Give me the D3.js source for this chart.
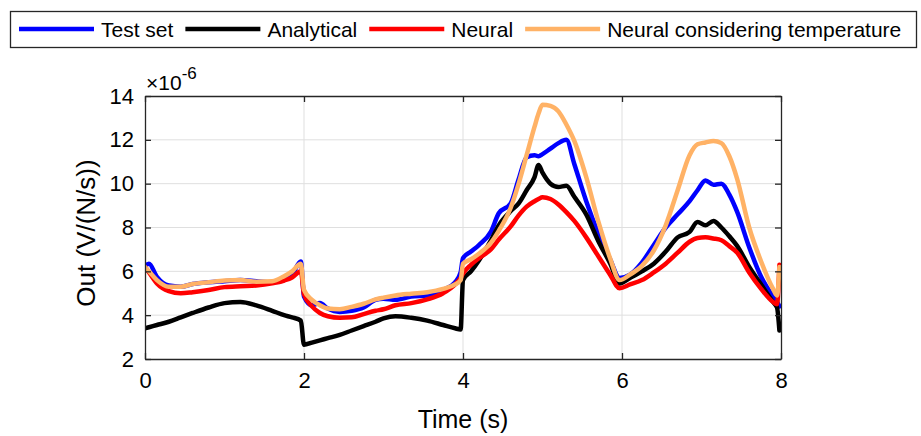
<!DOCTYPE html>
<html>
<head>
<meta charset="utf-8">
<script src="https://cdn.jsdelivr.net/npm/d3@7"></script>
<style>
    body { margin: 0; background: #fff; }
    svg { display: block; font-family: "Liberation Sans", Arial, Helvetica, sans-serif; }
</style>
</head>
<body>
<div id="chart"></div>
<script>
const times = [0, 0.05, 0.15, 0.3, 0.45, 0.6, 0.8, 1.0, 1.2, 1.4, 1.6, 1.75, 1.85, 1.96,
    2.0, 2.1, 2.2, 2.3, 2.45, 2.6, 2.75, 2.9, 3.0, 3.15, 3.35, 3.55, 3.75, 3.9, 3.97,
    4.0, 4.1, 4.2, 4.35, 4.45, 4.6, 4.7, 4.8, 4.9, 4.95, 5.0, 5.1, 5.2, 5.3, 5.4, 5.55, 5.7, 5.85, 5.97,
    6.1, 6.25, 6.4, 6.55, 6.7, 6.85, 6.95, 7.05, 7.15, 7.25, 7.35, 7.45, 7.6, 7.75, 7.9, 7.95, 7.98];

// values in units of 1e-6 V/(N/s)
const testSet = [6.25, 6.35, 5.75, 5.35, 5.3, 5.42, 5.5, 5.55, 5.6, 5.55, 5.5, 5.6, 5.85, 6.45,
    4.85, 4.45, 4.55, 4.3, 4.15, 4.2, 4.35, 4.7, 4.75, 4.7, 4.85, 4.9, 5.15, 5.5, 5.95,
    6.6, 6.9, 7.2, 7.8, 8.65, 9.1, 10.2, 11.2, 11.3, 11.25, 11.35, 11.6, 11.85, 12.0, 10.9, 9.2, 7.75, 6.55, 5.7,
    5.85, 6.4, 7.2, 8.0, 8.6, 9.2, 9.7, 10.15, 9.95, 10.0, 9.5, 8.7, 7.1, 5.75, 4.85, 4.6, 4.4];

const analytical = [3.4, 3.45, 3.55, 3.7, 3.9, 4.1, 4.35, 4.55, 4.6, 4.45, 4.2, 4.0, 3.9, 3.75,
    2.65, 2.75, 2.85, 2.95, 3.1, 3.3, 3.5, 3.7, 3.85, 3.95, 3.88, 3.75, 3.55, 3.4, 3.35,
    5.6, 6.0, 6.5, 7.4, 8.1, 8.75, 9.1, 9.7, 10.3, 10.85, 10.5, 10.0, 9.85, 9.9, 9.4, 8.6, 7.4, 6.37, 5.45,
    5.7, 6.0, 6.35, 6.9, 7.55, 7.8, 8.25, 8.1, 8.3, 8.0, 7.6, 7.15, 6.2, 5.4, 4.6, 4.35, 3.3];

const neural = [6.2, 5.95, 5.45, 5.1, 5.0, 5.05, 5.15, 5.28, 5.32, 5.35, 5.45, 5.58, 5.72, 6.0,
    4.95, 4.4, 4.1, 3.95, 3.88, 3.9, 4.05, 4.2, 4.27, 4.45, 4.55, 4.72, 5.0, 5.4, 5.7,
    5.9, 6.3, 6.6, 7.0, 7.45, 8.05, 8.55, 8.95, 9.2, 9.3, 9.38, 9.3, 9.05, 8.7, 8.3, 7.55, 6.7, 5.85, 5.23,
    5.4, 5.6, 5.95, 6.35, 6.85, 7.35, 7.52, 7.55, 7.5, 7.42, 7.15, 6.85, 5.95, 5.2, 4.6, 4.5, 6.3];

const neuralTemp = [6.2, 6.0, 5.6, 5.3, 5.3, 5.42, 5.5, 5.58, 5.6, 5.53, 5.55, 5.78, 6.0, 6.35,
    5.15, 4.7, 4.45, 4.3, 4.27, 4.38, 4.52, 4.72, 4.8, 4.9, 4.98, 5.05, 5.2, 5.4, 5.6,
    6.35, 6.55, 6.8, 7.3, 7.85, 8.9, 10.0, 11.3, 12.6, 13.2, 13.6, 13.55, 13.3, 12.7, 11.95, 10.3, 8.3, 6.6, 5.6,
    5.85, 6.25, 6.95, 8.1, 9.7, 11.3, 11.8, 11.88, 11.95, 11.85, 11.25, 10.2, 8.0, 6.45, 5.2, 4.9, 6.2];

const seriesNames = ['Test set', 'Analytical', 'Neural', 'Neural considering temperature'];
const seriesColors = ['#0000ff', '#000000', '#ff0000', '#ffb266'];
const seriesValues = [testSet, analytical, neural, neuralTemp];

const xTicks = [0, 2, 4, 6, 8];
const yTicks = [2, 4, 6, 8, 10, 12, 14];

document.addEventListener('DOMContentLoaded', () => {
    const width = 921;
    const height = 436;
    const plot = { left: 145, right: 781, top: 96, bottom: 359 };
    const axisColor = '#262626';

    const svg = d3.select('#chart')
        .append('svg')
        .attr('width', width)
        .attr('height', height);

    svg.append('rect').attr('width', width).attr('height', height).attr('fill', '#fff');

    const x = d3.scaleLinear().domain([0, 8]).range([plot.left, plot.right]);
    const y = d3.scaleLinear().domain([2, 14]).range([plot.bottom, plot.top]);

    // grid
    svg.append('g')
        .selectAll('line')
        .data(xTicks.slice(1, -1))
        .enter().append('line')
        .attr('x1', d => x(d)).attr('x2', d => x(d))
        .attr('y1', plot.top).attr('y2', plot.bottom)
        .attr('stroke', '#dfdfdf').attr('stroke-width', 1);

    svg.append('g')
        .selectAll('line')
        .data(yTicks.slice(1, -1))
        .enter().append('line')
        .attr('x1', plot.left).attr('x2', plot.right)
        .attr('y1', d => y(d)).attr('y2', d => y(d))
        .attr('stroke', '#dfdfdf').attr('stroke-width', 1);

    // data lines
    svg.append('clipPath').attr('id', 'clip')
        .append('rect')
        .attr('x', plot.left).attr('y', plot.top - 2)
        .attr('width', plot.right - plot.left).attr('height', plot.bottom - plot.top + 2);

    const line = d3.line()
        .x((d, i) => x(times[i]))
        .y(d => y(d))
        .curve(d3.curveMonotoneX);

    const lines = svg.append('g').attr('clip-path', 'url(#clip)');
    seriesValues.forEach((vals, i) => {
        lines.append('path')
            .attr('d', line(vals))
            .attr('fill', 'none')
            .attr('stroke', seriesColors[i])
            .attr('stroke-width', 4.5)
            .attr('stroke-linejoin', 'round')
            .attr('stroke-linecap', 'round');
    });

    // axes (ticks inward, box on)
    const xAxisBottom = d3.axisBottom(x).tickValues(xTicks).tickSizeInner(-6).tickSizeOuter(0).tickPadding(13);
    const xAxisTop = d3.axisTop(x).tickValues(xTicks).tickSizeInner(-6).tickSizeOuter(0).tickFormat('');
    const yAxisLeft = d3.axisLeft(y).tickValues(yTicks).tickSizeInner(-6).tickSizeOuter(0).tickPadding(11);
    const yAxisRight = d3.axisRight(y).tickValues(yTicks).tickSizeInner(-6).tickSizeOuter(0).tickFormat('');

    const styleAxis = g => {
        g.attr('font-family', null).attr('font-size', null);
        g.select('.domain').attr('stroke', axisColor).attr('stroke-width', 1.3);
        g.selectAll('.tick line').attr('stroke', axisColor).attr('stroke-width', 1.3);
        g.selectAll('.tick text').attr('fill', '#000').attr('font-size', 22);
    };

    svg.append('g').attr('transform', `translate(0,${plot.bottom})`).call(xAxisBottom).call(styleAxis);
    svg.append('g').attr('transform', `translate(0,${plot.top})`).call(xAxisTop).call(styleAxis);
    svg.append('g').attr('transform', `translate(${plot.left},0)`).call(yAxisLeft).call(styleAxis);
    svg.append('g').attr('transform', `translate(${plot.right},0)`).call(yAxisRight).call(styleAxis);

    // exponent label
    const expo = svg.append('text')
        .attr('x', 146).attr('y', 89.5)
        .attr('font-size', 21).attr('fill', '#000');
    expo.append('tspan').text('×10');
    expo.append('tspan').attr('dy', -11).attr('font-size', 17).text('-6');

    // axis labels
    svg.append('text')
        .attr('x', (plot.left + plot.right) / 2).attr('y', 428)
        .attr('text-anchor', 'middle')
        .attr('font-size', 25)
        .text('Time (s)');

    svg.append('text')
        .attr('transform', 'translate(95,233) rotate(-90)')
        .attr('text-anchor', 'middle')
        .attr('font-size', 26)
        .text('Out (V/(N/s))');

    renderLegend(svg);
});

function renderLegend(svg) {
    const legend = svg.append('g');
    legend.append('rect')
        .attr('x', 10.5).attr('y', 11.5)
        .attr('width', 906).attr('height', 36)
        .attr('fill', '#fff')
        .attr('stroke', '#262626')
        .attr('stroke-width', 1.3);

    let cx = 19;
    const cy = 29;
    seriesNames.forEach((name, i) => {
        legend.append('line')
            .attr('x1', cx).attr('x2', cx + 75)
            .attr('y1', cy).attr('y2', cy)
            .attr('stroke', seriesColors[i])
            .attr('stroke-width', 4.5);
        const t = legend.append('text')
            .attr('x', cx + 82).attr('y', cy + 7.5)
            .attr('font-size', 21)
            .text(name);
        cx += 82 + t.node().getComputedTextLength() + 12;
    });
}
</script>
</body>
</html>
